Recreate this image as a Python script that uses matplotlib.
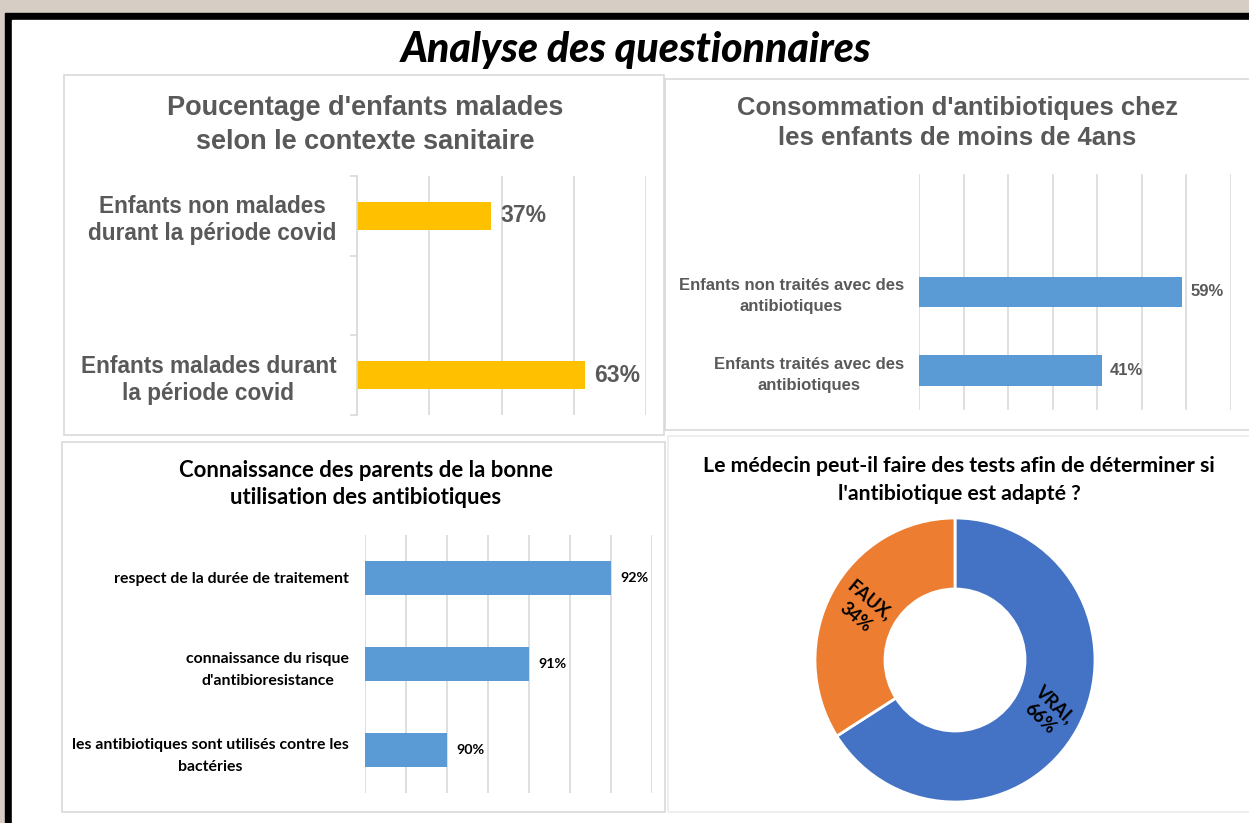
import numpy as np
import matplotlib
matplotlib.use("Agg")
import matplotlib.pyplot as plt
from matplotlib.patches import Rectangle

W, H = 1249, 823

# ---- data -----------------------------------------------------------------
main_title = "Analyse des questionnaires"

p1_title = "Poucentage d'enfants malades\nselon le contexte sanitaire"
p1_labels = ["Enfants malades durant\nla période covid", "",
             "Enfants non malades\ndurant la période covid"]
p1_values = [0.63, None, 0.37]

p2_title = "Consommation d'antibiotiques chez\nles enfants de moins de 4ans"
p2_labels = ["Enfants traités avec des\nantibiotiques",
             "Enfants non traités avec des\nantibiotiques", ""]
p2_values = [0.41, 0.59, None]

p3_title = "Connaissance des parents de la bonne\nutilisation des antibiotiques"
p3_labels = ["les antibiotiques sont utilisés contre les\nbactéries",
             "connaissance du risque\nd'antibioresistance",
             "respect de la durée de traitement"]
p3_values = [0.90, 0.91, 0.92]

p4_title = ("Le médecin peut-il faire des tests afin de déterminer si\n"
            "l'antibiotique est adapté ?")
p4_labels = ["VRAI", "FAUX"]
p4_values = [0.66, 0.34]

GOLD = "#FFC000"
BLUE = "#5B9BD5"
DONUT = ["#4472C4", "#ED7D31"]
GRID = "#D9D9D9"
GREY_TXT = "#595959"


def px_rect(x0, y0, x1, y1):
    """pixel box (top-left origin) -> figure fraction [l, b, w, h]"""
    return [x0 / W, 1 - y1 / H, (x1 - x0) / W, (y1 - y0) / H]


def box(x0, y0, x1, y1, color=GRID):
    l, b, w, h = px_rect(x0, y0, x1, y1)
    fig.patches.append(Rectangle((l, b), w, h, transform=fig.transFigure,
                                 facecolor="none", edgecolor=color, lw=1.2,
                                 zorder=-1))


def hbars(ax, labels, values, color, xlim, step, height, font, fsize,
          lab_color, val_size, pad, val_off, lsp):
    pos = np.arange(len(labels))
    for i, v in enumerate(values):
        if v is None:
            continue
        ax.barh(pos[i], v, height=height, color=color, zorder=2)
        ax.annotate(f"{v:.0%}", (v, pos[i]), xytext=(val_off, 0),
                    textcoords="offset points", va="center", ha="left",
                    fontsize=val_size, fontweight="bold", color=lab_color,
                    family=font)
    ax.set_facecolor("none")
    ax.set_xlim(*xlim)
    ax.set_ylim(-0.5, len(labels) - 0.5)
    ax.set_xticks(np.arange(xlim[0], xlim[1] + step / 2, step))
    ax.xaxis.grid(True, color=GRID, lw=1.2)
    ax.set_axisbelow(True)
    ax.tick_params(axis="x", length=0, labelbottom=False)
    ax.set_yticks(pos)
    ax.set_yticklabels(labels, fontsize=fsize, fontweight="bold",
                       color=lab_color, family=font, multialignment="center",
                       linespacing=lsp)
    ax.tick_params(axis="y", length=0, pad=pad)
    for s in ax.spines.values():
        s.set_visible(False)


fig = plt.figure(figsize=(W / 100, H / 100), dpi=100, facecolor="#d6cec4")

# frame: black border then white sheet (kept behind the axes)
fig.patches.append(Rectangle((5 / W, 0), 1, 1 - 13 / H, zorder=-3,
                             transform=fig.transFigure, color="black"))
fig.patches.append(Rectangle((12 / W, 0), 1, 1 - 20 / H, zorder=-2,
                             transform=fig.transFigure, color="white"))

fig.text(636 / W, 1 - 50 / H, main_title, ha="center", va="center",
         fontsize=29.5, family="Lato", fontweight="black", style="italic")

# panel outlines
box(64, 75, 664, 435)
box(665, 79, 1252, 430)
box(62, 442, 665, 812)
box(668, 436, 1252, 812, color="#EBEBEB")

# ---- panel 1 ----------------------------------------------------------------
fig.text(365 / W, 1 - 125 / H, p1_title, ha="center", va="center",
         fontsize=19.5, fontweight="bold", color=GREY_TXT,
         family="Liberation Sans", linespacing=1.38)
ax1 = fig.add_axes(px_rect(357, 176, 646, 415))
hbars(ax1, p1_labels, p1_values, GOLD, (0, 0.8), 0.2, 0.35,
      "Liberation Sans", 16.3, GREY_TXT, 16.5, 15, 7, 1.22)
ax1.spines["left"].set_visible(True)
ax1.spines["left"].set_color(GRID)
ax1.spines["left"].set_linewidth(1.2)
ax1.set_yticks(np.arange(-0.5, len(p1_labels)), minor=True)
ax1.tick_params(axis="y", which="minor", length=5, color=GRID, width=1.2)

# ---- panel 2 ----------------------------------------------------------------
fig.text(957 / W, 1 - 123 / H, p2_title, ha="center", va="center",
         fontsize=18.5, fontweight="bold", color=GREY_TXT,
         family="Liberation Sans", linespacing=1.32)
ax2 = fig.add_axes(px_rect(919, 174, 1231, 410))
hbars(ax2, p2_labels, p2_values, BLUE, (0, 0.7), 0.1, 0.39,
      "Liberation Sans", 12, GREY_TXT, 12, 11, 6, 1.45)

# ---- panel 3 ----------------------------------------------------------------
fig.text(366 / W, 1 - 484 / H, p3_title, ha="center", va="center",
         fontsize=15.9, fontweight="bold", color="black", family="Lato",
         linespacing=1.32)
ax3 = fig.add_axes(px_rect(365, 535, 652, 793))
hbars(ax3, p3_labels, p3_values, BLUE, (0.89, 0.925), 0.005, 0.4,
      "Lato", 11.4, "black", 10.3, 11.5, 7, 1.75)

# ---- panel 4 (donut) ---------------------------------------------------------
fig.text(959 / W, 1 - 480 / H, p4_title, ha="center", va="center",
         fontsize=15.3, fontweight="bold", color="black", family="Lato",
         linespacing=1.5)
ax4 = fig.add_axes(px_rect(815, 518, 1095, 802))
wedges, _ = ax4.pie(p4_values, colors=DONUT, startangle=90, counterclock=False,
                    radius=1, wedgeprops=dict(width=0.5, edgecolor="white",
                                              linewidth=2))
ax4.set_xlim(-1, 1)
ax4.set_ylim(-1, 1)
ax4.set_aspect("auto")
for w, name, v, rot in zip(wedges, p4_labels, p4_values, [-44, -40]):
    mid = np.deg2rad((w.theta1 + w.theta2) / 2)
    ax4.text(0.75 * np.cos(mid), 0.75 * np.sin(mid), f"{name},\n{v:.0%}",
             ha="center", va="center", rotation=rot, rotation_mode="anchor",
             fontsize=13, fontweight="bold", family="Lato", linespacing=1.3)

fig.savefig("out.png", dpi=100, facecolor=fig.get_facecolor())
